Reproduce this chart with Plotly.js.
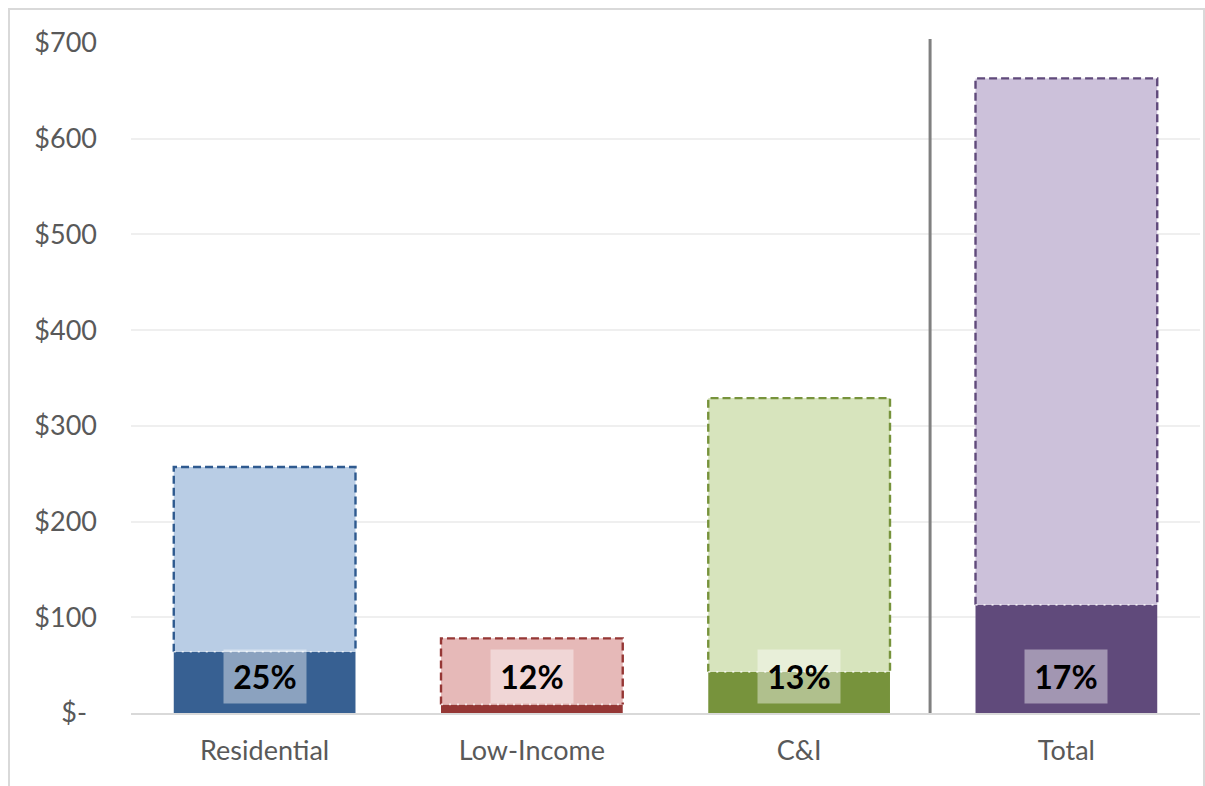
<!DOCTYPE html>
<html>
<head>
<meta charset="utf-8">
<script src="https://cdn.plot.ly/plotly-3.0.1.min.js"></script>
<style>
  html, body { margin: 0; padding: 0; background: #ffffff; }
  #wrap { position: relative; width: 1205px; height: 786px; }
  #chart { position: absolute; left: 0; top: 0; width: 1205px; height: 786px; }
  #frame { position: absolute; left: 8px; top: 8px; width: 1193px; height: 776px;
           border: 2px solid #d9d9d9; pointer-events: none; }
</style>
</head>
<body>
<div id="wrap">
  <div id="chart"></div>
  <div id="frame"></div>
</div>
<script>
// ---- data ----
const categories = ['Residential', 'Low-Income', 'C&I', 'Total'];
const achieved = [64, 9, 43, 113];          // dark (realised) portion, $
const potential = [257, 78, 329, 663];      // full dashed bar height, $
const pctLabels = ['25%', '12%', '13%', '17%'];
const yTickVals = [0, 100, 200, 300, 400, 500, 600, 700];
const yTickText = ['$-<span style="fill:rgba(0,0,0,0)">-</span>', '$100', '$200', '$300', '$400', '$500', '$600', '$700'];

// ---- styles ----
const darkColors = ['#376092', '#953735', '#77933C', '#604A7B'];
const lightColors = ['#B9CDE5', '#E6B9B8', '#D7E4BD', '#CCC1DA'];
const edgeColors = ['#2F5A8F', '#953735', '#77933C', '#604A7B'];
const barWidth = 0.68;
const fontFam = 'Lato, "Open Sans", sans-serif';

const xs = categories.map((c, i) => i);
const traces = [];

// dark achieved bars
traces.push({
  type: 'bar', x: xs, y: achieved, width: barWidth,
  marker: { color: darkColors, line: { width: 0 } },
  hoverinfo: 'skip', showlegend: false
});
// light remaining potential stacked on top
traces.push({
  type: 'bar', x: xs, y: potential.map((p, i) => p - achieved[i]), base: achieved, width: barWidth,
  marker: { color: lightColors, line: { width: 0 } },
  hoverinfo: 'skip', showlegend: false
});
// dashed outlines of the potential part
xs.forEach((x, i) => {
  const l = x - barWidth / 2, r = x + barWidth / 2;
  traces.push({
    type: 'scatter', mode: 'lines',
    x: [l, l, r, r], y: [achieved[i], potential[i], potential[i], achieved[i]],
    line: { color: edgeColors[i], width: 2.4, dash: '8px,4px' },
    hoverinfo: 'skip', showlegend: false
  });
  traces.push({
    type: 'scatter', mode: 'lines',
    x: [l, r], y: [achieved[i], achieved[i]],
    line: { color: 'rgba(255,255,255,0.75)', width: 1.6, dash: '2px,6px' },
    hoverinfo: 'skip', showlegend: false
  });
});

const annotations = xs.map((x, i) => ({
  x: x, y: 0, xref: 'x', yref: 'y', yanchor: 'bottom', yshift: 9,
  text: '<b>' + pctLabels[i] + '</b>', showarrow: false,
  font: { family: fontFam, size: 32, color: '#000000' },
  bgcolor: 'rgba(255,255,255,0.42)', width: 82, height: 53, borderpad: 0, valign: 'middle'
}));

const layout = {
  width: 1205, height: 786,
  margin: { l: 131, r: 5, t: 43, b: 73 },
  paper_bgcolor: '#ffffff', plot_bgcolor: '#ffffff',
  barmode: 'overlay',
  showlegend: false,
  xaxis: {
    range: [-0.5, 3.5], tickvals: xs, ticktext: categories,
    showgrid: false, zeroline: false, showline: true, linecolor: '#d9d9d9', linewidth: 2,
    ticks: '', ticklabelstandoff: 13,
    tickfont: { family: fontFam, size: 27, color: '#595959' },
    fixedrange: true
  },
  yaxis: {
    range: [0, 700], tickvals: yTickVals, ticktext: yTickText,
    showgrid: true, gridcolor: '#efefef', gridwidth: 2, zeroline: false, showline: false,
    ticks: '', ticklabelstandoff: 33,
    tickfont: { family: fontFam, size: 27, color: '#595959' },
    fixedrange: true
  },
  shapes: [{
    type: 'line', xref: 'x', yref: 'paper', x0: 2.49, x1: 2.49, y0: 0, y1: 1.006,
    line: { color: '#808080', width: 3 }
  }],
  annotations: annotations
};

Plotly.newPlot('chart', traces, layout, { displayModeBar: false, staticPlot: true });
</script>
</body>
</html>
